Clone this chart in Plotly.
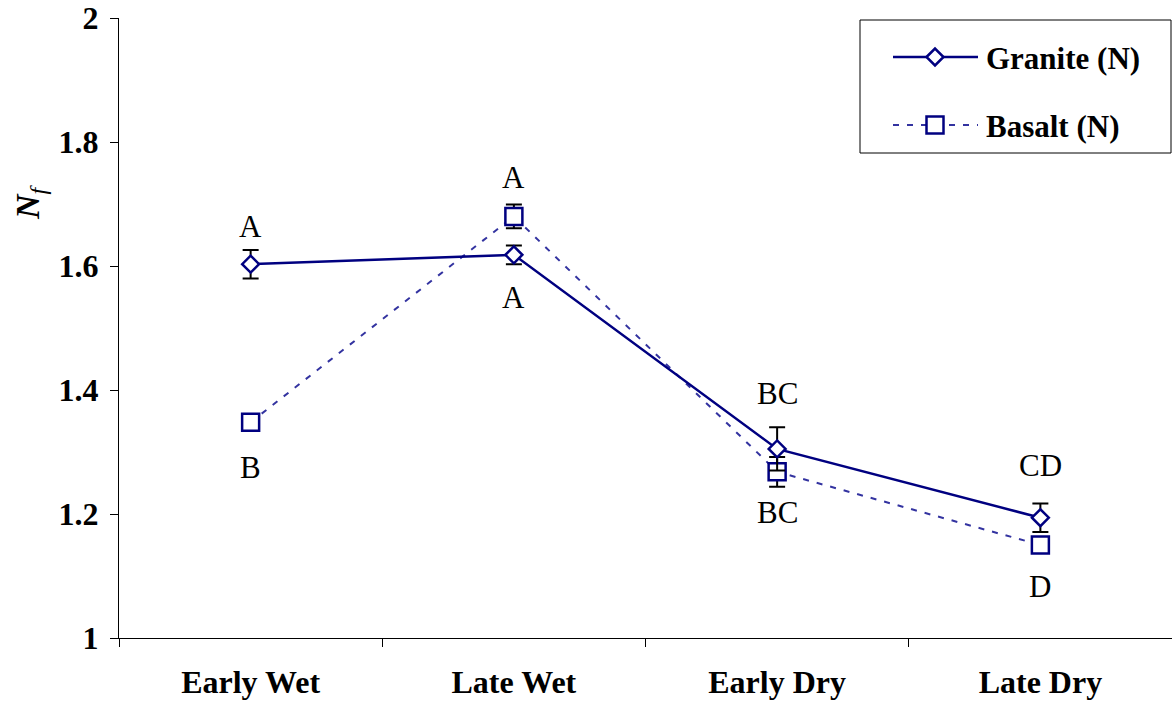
import plotly.graph_objects as go

# Seasonal N_f values by rock type
seasons = ["Early Wet", "Late Wet", "Early Dry", "Late Dry"]
granite = [1.603, 1.618, 1.305, 1.194]
granite_err = [0.023, 0.015, 0.035, 0.023]
basalt = [1.348, 1.680, 1.268, 1.150]
basalt_err = [0.004, 0.019, 0.024, 0.004]

# Significance letters (Tukey groups)
granite_letters = ["A", "A", "BC", "CD"]
basalt_letters = ["B", "A", "BC", "D"]

# pixel offsets of the letters from their points (negative = below)
granite_shift = [38, -43, 55, 52]
basalt_shift = [-45, 39, -41, -41]

NAVY = "#000080"
DASH_BLUE = "#3333A0"
SERIF = "Liberation Serif, Times New Roman, serif"
FS = 32

L, T, W, H = 119, 18, 1172, 709
B = 71
PW, PH = W - L, H - T - B


def px(x):
    return (x - L) / PW


def py(y):
    return (H - B - y) / PH


fig = go.Figure()

fig.add_trace(go.Scatter(
    x=seasons, y=basalt, name="Basalt (N)", mode="lines+markers",
    line=dict(color=DASH_BLUE, width=2, dash="6px,8px"),
    marker=dict(symbol="square", size=17, color="white", line=dict(width=2.5, color=NAVY)),
    error_y=dict(type="data", array=basalt_err, color="black", thickness=2, width=8),
))
fig.add_trace(go.Scatter(
    x=seasons, y=granite, name="Granite (N)", mode="lines+markers",
    line=dict(color=NAVY, width=2.5),
    marker=dict(symbol="diamond", size=13, color="white", line=dict(width=2.5, color=NAVY)),
    error_y=dict(type="data", array=granite_err, color="black", thickness=2, width=8),
))

annotations = []
for s, v, lab, sh in zip(seasons, granite, granite_letters, granite_shift):
    annotations.append(dict(x=s, y=v, text=lab, showarrow=False, yshift=sh,
                            font=dict(family=SERIF, size=31, color="black")))
for s, v, lab, sh in zip(seasons, basalt, basalt_letters, basalt_shift):
    annotations.append(dict(x=s, y=v, text=lab, showarrow=False, yshift=sh,
                            font=dict(family=SERIF, size=31, color="black")))

# y-axis title
annotations.append(dict(xref="paper", yref="paper", x=px(30), y=py(202),
                        xanchor="center", yanchor="middle",
                        text="<b><i>N</i></b><sub><i>f</i></sub>", showarrow=False,
                        textangle=-90, font=dict(family=SERIF, size=34, color="black")))

# legend box drawn by hand
shapes = [
    dict(type="rect", xref="paper", yref="paper", x0=px(860), x1=px(1171), y0=py(153), y1=py(20),
         line=dict(color="black", width=1), fillcolor="white", layer="below"),
    dict(type="line", xref="paper", yref="paper", x0=px(893), x1=px(978), y0=py(57), y1=py(57),
         line=dict(color=NAVY, width=2.5)),
    dict(type="line", xref="paper", yref="paper", x0=px(893), x1=px(978), y0=py(125), y1=py(125),
         line=dict(color=DASH_BLUE, width=2, dash="6px,8px")),
    dict(type="path", xref="paper", yref="paper", xsizemode="pixel", ysizemode="pixel",
         xanchor=px(935), yanchor=py(57), path="M-8.5,0 L0,8.5 L8.5,0 L0,-8.5 Z",
         line=dict(color=NAVY, width=2.5), fillcolor="white"),
    dict(type="rect", xref="paper", yref="paper", xsizemode="pixel", ysizemode="pixel",
         xanchor=px(935), yanchor=py(125), x0=-8.5, x1=8.5, y0=-8.5, y1=8.5,
         line=dict(color=NAVY, width=2.5), fillcolor="white"),
]
annotations.append(dict(xref="paper", yref="paper", x=px(984), y=py(58), xanchor="left",
                        yanchor="middle", text="<b>Granite (N)</b>", showarrow=False,
                        font=dict(family=SERIF, size=31, color="black")))
annotations.append(dict(xref="paper", yref="paper", x=px(984), y=py(126), xanchor="left",
                        yanchor="middle", text="<b>Basalt (N)</b>", showarrow=False,
                        font=dict(family=SERIF, size=31, color="black")))

fig.update_layout(
    width=W, height=H,
    margin=dict(l=L, r=0, t=T, b=B),
    plot_bgcolor="white", paper_bgcolor="white",
    showlegend=False,
    annotations=annotations, shapes=shapes,
    xaxis=dict(type="category", categoryarray=seasons, range=[-0.5, 3.5],
               showline=True, linecolor="black", linewidth=1, showgrid=False,
               ticks="outside", tickson="boundaries", ticklen=8, tickcolor="black",
               tickfont=dict(family=SERIF, size=FS, color="black"),
               ticklabelstandoff=16, zeroline=False,
               tickvals=seasons, ticktext=["<b>%s</b>" % s for s in seasons]),
    yaxis=dict(range=[1, 2], dtick=0.2, tick0=1, showline=True, linecolor="black", linewidth=1,
               showgrid=False, zeroline=False, ticks="outside", ticklen=8, tickcolor="black",
               tickfont=dict(family=SERIF, size=FS, color="black"),
               ticklabelstandoff=5,
               tickvals=[1, 1.2, 1.4, 1.6, 1.8, 2],
               ticktext=["<b>1</b>", "<b>1.2</b>", "<b>1.4</b>", "<b>1.6</b>", "<b>1.8</b>", "<b>2</b>"]),
)

fig.write_html("out.html")
